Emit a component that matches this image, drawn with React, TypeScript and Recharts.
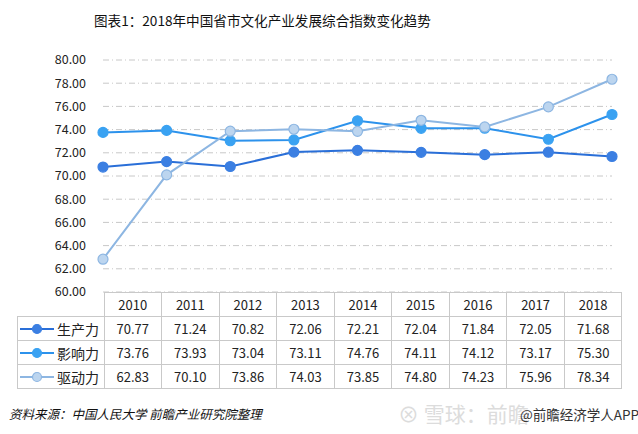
import React from "react";
import { LineChart, Line, XAxis, YAxis, CartesianGrid } from "recharts";

const years = ["2010", "2011", "2012", "2013", "2014", "2015", "2016", "2017", "2018"];
const production = [70.77, 71.24, 70.82, 72.06, 72.21, 72.04, 71.84, 72.05, 71.68];
const influence = [73.76, 73.93, 73.04, 73.11, 74.76, 74.11, 74.12, 73.17, 75.3];
const drive = [62.83, 70.1, 73.86, 74.03, 73.85, 74.8, 74.23, 75.96, 78.34];
const yTicks = [60, 62, 64, 66, 68, 70, 72, 74, 76, 78, 80];

const seriesList = [
  { key: "production", name: "生产力", values: production, line: "#2a6fd8", dot: "#3b7fe2", dotStroke: "#3b7fe2" },
  { key: "influence", name: "影响力", values: influence, line: "#2c92ec", dot: "#3aa2f2", dotStroke: "#3aa2f2" },
  { key: "drive", name: "驱动力", values: drive, line: "#8db6e2", dot: "#bcd5ef", dotStroke: "#8db6e2" },
];

const rows = years.map((y, i) => ({
  year: y,
  production: production[i],
  influence: influence[i],
  drive: drive[i],
}));

const FONT = "'Noto Sans CJK SC', 'Noto Sans', sans-serif";
const PLOT_LEFT = 103;
const PLOT_RIGHT = 612;
const COL_W = (PLOT_RIGHT - PLOT_LEFT) / years.length;
const ROW_H = 24;
const BORDER = "#c9c9c9";

const LegendIcon = ({ s }: { s: (typeof seriesList)[number] }) => (
  <svg width={34} height={12} style={{ display: "block" }}>
    <line x1={0} y1={6} x2={34} y2={6} stroke={s.line} strokeWidth={2} />
    <circle cx={17} cy={6} r={4.5} fill={s.dot} stroke={s.dotStroke} strokeWidth={1.2} />
  </svg>
);

export default function App() {
  return (
    <div
      style={{
        position: "absolute",
        left: 0,
        top: 0,
        width: 638,
        height: 434,
        background: "#fff",
        fontFamily: FONT,
        overflow: "hidden",
      }}
    >
      <div
        style={{
          position: "absolute",
          left: 94,
          top: 10,
          fontSize: 13.6,
          color: "#111",
          whiteSpace: "nowrap",
        }}
      >
        图表1：2018年中国省市文化产业发展综合指数变化趋势
      </div>

      <div style={{ position: "absolute", left: 0, top: 0 }}>
        <LineChart
          width={638}
          height={300}
          data={rows}
          margin={{ top: 60, right: 638 - PLOT_RIGHT, bottom: 8, left: PLOT_LEFT - 60 }}
        >
          <CartesianGrid vertical={false} stroke="#c8c8c8" strokeDasharray="6 3 1 3" />
          <XAxis dataKey="year" hide padding={{ left: 0, right: 0 }} />
          <YAxis
            width={60}
            domain={[60, 80]}
            ticks={yTicks}
            interval={0}
            tickFormatter={(v: number) => v.toFixed(2)}
            tick={{ fontSize: 12.5, fill: "#222", fontFamily: FONT }}
            tickLine={false}
            axisLine={false}
            tickMargin={11}
          />
          {seriesList.map((s) => (
            <Line
              key={s.key}
              dataKey={s.key}
              name={s.name}
              stroke={s.line}
              strokeWidth={2}
              dot={{ r: 5, fill: s.dot, stroke: s.dotStroke, strokeWidth: 1.2 }}
              isAnimationActive={false}
            />
          ))}
        </LineChart>
      </div>

      <table
        style={{
          position: "absolute",
          left: 17,
          top: 292,
          borderCollapse: "collapse",
          tableLayout: "fixed",
          fontSize: 13,
          color: "#222",
          fontFamily: FONT,
        }}
      >
        <tbody>
          <tr style={{ height: ROW_H }}>
            <td style={{ width: PLOT_LEFT - 17, padding: 0, border: "none" }} />
            {years.map((y) => (
              <td
                key={y}
                style={{ width: COL_W, padding: 0, textAlign: "center", border: `1px solid ${BORDER}` }}
              >
                {y}
              </td>
            ))}
          </tr>
          {seriesList.map((s) => (
            <tr key={s.key} style={{ height: ROW_H }}>
              <td style={{ padding: 0, border: `1px solid ${BORDER}` }}>
                <div style={{ display: "flex", alignItems: "center", gap: 3, paddingLeft: 2 }}>
                  <LegendIcon s={s} />
                  <span style={{ fontSize: 14 }}>{s.name}</span>
                </div>
              </td>
              {s.values.map((v, i) => (
                <td
                  key={i}
                  style={{ padding: 0, textAlign: "center", border: `1px solid ${BORDER}` }}
                >
                  {v.toFixed(2)}
                </td>
              ))}
            </tr>
          ))}
        </tbody>
      </table>

      <div
        style={{
          position: "absolute",
          left: 8,
          top: 404,
          fontSize: 12.5,
          color: "#111",
          transform: "skewX(-14deg)",
          transformOrigin: "left bottom",
          whiteSpace: "nowrap",
        }}
      >
        资料来源：中国人民大学 前瞻产业研究院整理
      </div>

      <div
        style={{
          position: "absolute",
          left: 398,
          top: 398,
          fontSize: 21,
          color: "#dcdcdc",
          whiteSpace: "nowrap",
        }}
      >
        ⊗ 雪球：前瞻
      </div>
      <div
        style={{
          position: "absolute",
          left: 520,
          top: 404,
          fontSize: 13.5,
          color: "#333",
          whiteSpace: "nowrap",
        }}
      >
        @前瞻经济学人APP
      </div>
    </div>
  );
}
